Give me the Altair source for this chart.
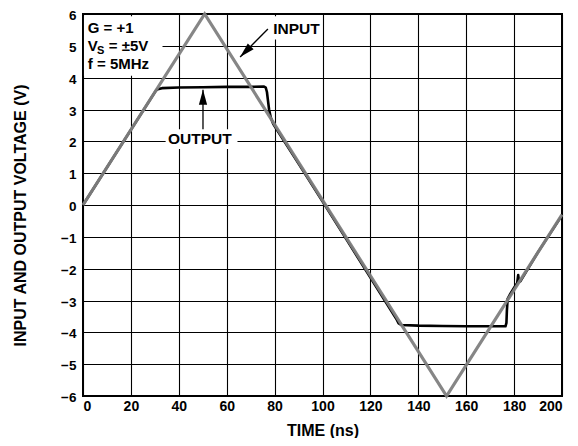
import altair as alt
import pandas as pd

# ---- data ----
input_t = [0, 50.8, 151.8, 200]
input_v = [0, 6, -6, -0.3]

output_t = [0, 30.5, 31.2, 33, 40, 50, 60, 70, 75.6, 76.3, 76.8, 77.2, 77.7, 78.4, 79.4, 80.5,
            90, 100, 110, 120, 130, 131.0, 131.8, 133, 140, 150, 160, 170, 176.4, 176.8,
            177.0, 177.3, 178.2, 180, 181.3, 181.7, 182.0, 182.6, 190, 199.5]
output_v = [0, 3.6, 3.64, 3.67, 3.69, 3.70, 3.71, 3.71, 3.72, 3.69, 3.55, 3.3, 3.0, 2.75, 2.55, 2.42,
            1.3, 0.12, -1.08, -2.28, -3.48, -3.6, -3.72, -3.77, -3.79, -3.8, -3.81, -3.81, -3.81, -3.7,
            -3.3, -2.95, -2.82, -2.6, -2.45, -2.2, -2.38, -2.4, -1.48, -0.38]

x_ticks = list(range(0, 201, 20))
y_ticks = list(range(-6, 7))

# text blocks: (x, y, text, size)
note_x = [2.0, 2.0, 5.8, 10.8, 2.0, 79.4, 35.5]
note_y = [5.57, 4.99, 4.84, 4.99, 4.43, 5.53, 2.07]
note_text = ["G = +1", "V", "S", "= ±5V", "f = 5MHz", "INPUT", "OUTPUT"]
note_size = [15, 15, 11, 15, 15, 15.5, 15.5]

# white label backgrounds
box_x = [0.4, 78.6, 34.5]
box_x2 = [33.2, 99.4, 64.5]
box_y = [4.06, 5.2, 1.76]
box_y2 = [5.93, 5.93, 2.38]

# arrows: line from (x1,y1) to tip (x2,y2)
arrow_x1 = [77.2, 50.1]
arrow_y1 = [5.53, 2.38]
arrow_x2 = [65.6, 50.1]
arrow_y2 = [4.65, 3.62]
arrow_angle = [225, 0]

FONT = "Liberation Sans"

xs = alt.Scale(domain=[0, 200], nice=False, zero=False)
ys = alt.Scale(domain=[-6, 6], nice=False, zero=False)

x_axis = alt.Axis(values=x_ticks, title="TIME (ns)", grid=True, gridColor="black",
                  gridOpacity=1, gridWidth=1.1, domain=False, ticks=False,
                  labelFont=FONT, labelFontSize=14, labelFontWeight="bold", labelColor="black",
                  labelPadding=3, titleFont=FONT, titleFontSize=16, titleFontWeight="bold",
                  titleColor="black", titleY=26)
y_axis = alt.Axis(values=y_ticks, title="INPUT AND OUTPUT VOLTAGE (V)", grid=True,
                  gridColor="black", gridOpacity=1, gridWidth=1.1, domain=False, ticks=False,
                  labelFont=FONT, labelFontSize=13.5, labelFontWeight="bold", labelColor="black",
                  labelPadding=7, labelOffset=1.5, titleFont=FONT, titleFontSize=16,
                  titleFontWeight="bold", titleColor="black", titleX=-55, titleY=201)

df_in = pd.DataFrame({"t": input_t, "v": input_v, "i": range(len(input_t))})
df_out = pd.DataFrame({"t": output_t, "v": output_v, "i": range(len(output_t))})
df_note = pd.DataFrame({"x": note_x, "y": note_y, "text": note_text, "size": note_size})
df_box = pd.DataFrame({"x": box_x, "x2": box_x2, "y": box_y, "y2": box_y2})
df_arrow = pd.DataFrame({"x1": arrow_x1, "y1": arrow_y1, "x2": arrow_x2, "y2": arrow_y2,
                         "angle": arrow_angle})

grid_layer = alt.Chart(df_box).mark_rect(fill="white", opacity=1).encode(
    x=alt.X("x:Q", scale=xs, axis=x_axis),
    x2="x2:Q",
    y=alt.Y("y:Q", scale=ys, axis=y_axis),
    y2="y2:Q",
)

out_line = alt.Chart(df_out).mark_line(color="black", strokeWidth=2.6, strokeJoin="round").encode(
    x=alt.X("t:Q", scale=xs, axis=x_axis),
    y=alt.Y("v:Q", scale=ys, axis=y_axis),
    order="i:Q",
)

in_line = alt.Chart(df_in).mark_line(color="#808080", strokeWidth=3.2, opacity=0.95).encode(
    x=alt.X("t:Q", scale=xs, axis=x_axis),
    y=alt.Y("v:Q", scale=ys, axis=y_axis),
    order="i:Q",
)

arrow_lines = alt.Chart(df_arrow).mark_rule(color="black", strokeWidth=1.3).encode(
    x=alt.X("x1:Q", scale=xs, axis=x_axis),
    y=alt.Y("y1:Q", scale=ys, axis=y_axis),
    x2="x2:Q",
    y2="y2:Q",
)

arrow_heads = alt.Chart(df_arrow).mark_point(
    shape="M0,0L0.55,2L-0.55,2Z", filled=True, color="black", opacity=1, size=225
).encode(
    x=alt.X("x2:Q", scale=xs, axis=x_axis),
    y=alt.Y("y2:Q", scale=ys, axis=y_axis),
    angle=alt.Angle("angle:Q", scale=None),
)

notes = alt.Chart(df_note).mark_text(
    align="left", baseline="middle", font=FONT, fontWeight="bold", color="black"
).encode(
    x=alt.X("x:Q", scale=xs, axis=x_axis),
    y=alt.Y("y:Q", scale=ys, axis=y_axis),
    text="text:N",
    size=alt.Size("size:Q", scale=None, legend=None),
)

chart = alt.layer(grid_layer, out_line, in_line, arrow_lines, arrow_heads, notes).properties(
    width=479, height=382,
    autosize=alt.AutoSizeParams(type="none"),
    padding={"left": 75, "top": 6, "right": 8, "bottom": 42},
).configure(background="white").configure_view(stroke="black", strokeWidth=2)

chart.save("out.html", embed_options={"renderer": "svg", "actions": False})
